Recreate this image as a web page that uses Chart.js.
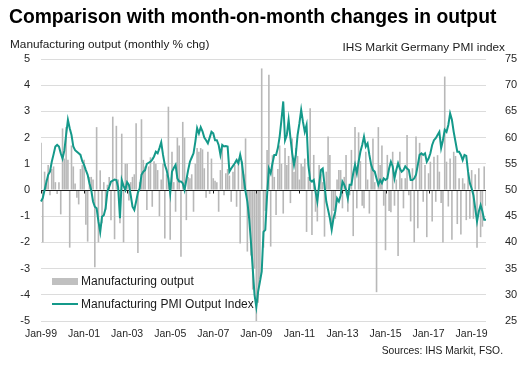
<!DOCTYPE html>
<html><head><meta charset="utf-8">
<script src="https://cdn.jsdelivr.net/npm/chart.js@4.4.1/dist/chart.umd.min.js"></script>
<style>
html,body{margin:0;padding:0;background:#fff;}
#wrap{position:relative;width:523px;height:372px;font-family:"Liberation Sans",Arial,sans-serif;color:#1a1a1a;overflow:hidden;background:#fff}
canvas{position:absolute;left:0;top:0}
.t{position:absolute;white-space:nowrap;line-height:1}
</style></head><body>
<div id="wrap">
<canvas id="c" width="523" height="372"></canvas>
<div class="t" style="left:9px;top:6.5px;font-size:19.3px;font-weight:bold;color:#000">Comparison with month-on-month changes in output</div>
<div class="t" style="left:10px;top:38.5px;font-size:11.8px">Manufacturing output (monthly % chg)</div>
<div class="t" style="right:18px;top:41.5px;font-size:11.8px">IHS Markit Germany PMI index</div>
<div class="t" style="right:20px;top:346px;font-size:10.3px">Sources: IHS Markit, FSO.</div>
<div style="position:absolute;left:52px;top:278px;width:26px;height:7px;background:#c0c0c0"></div>
<div class="t" style="left:81px;top:275px;font-size:12px">Manufacturing output</div>
<div style="position:absolute;left:52px;top:303px;width:26px;height:2px;background:#14998a"></div>
<div class="t" style="left:81px;top:298px;font-size:12px">Manufacturing PMI Output Index</div>
</div>
<script>
const startYear = 1999;
const monthNames = ['Jan','Feb','Mar','Apr','May','Jun','Jul','Aug','Sep','Oct','Nov','Dec'];
const tickLabels = ['Jan-99','Jan-01','Jan-03','Jan-05','Jan-07','Jan-09','Jan-11','Jan-13','Jan-15','Jan-17','Jan-19'];

// Manufacturing output, monthly % change (left axis)
const outputChange = [
 1.8,-2.0,0.7,0.4,0.95,-0.2,0.8,0.9,0.3,-0.15,
 0.3,-0.93,2.35,1.2,2.4,1.15,-2.2,1.7,0.9,0.25,
 -0.3,-0.55,0.8,0.95,1.15,-1.33,-1.97,0.5,0.5,0.4,
 -2.95,2.4,-2.0,0.75,-1.27,0.3,-0.76,0.2,0.5,-1.15,
 2.8,-1.88,2.45,0.4,-1.27,2.15,-2.0,1.0,1.0,-0.4,
 0.3,0.5,0.6,2.55,-2.4,0.3,2.7,1.15,0.9,-0.76,
 0.9,1.25,-0.64,1.1,1.0,0.76,-1.0,0.4,1.0,-1.85,
 0.6,3.18,-1.9,1.46,0.3,-0.83,2.0,1.7,-2.55,2.6,
 2.0,-1.15,0.5,0.45,0.6,-0.83,1.0,1.6,1.46,1.6,
 1.55,0.83,-0.3,1.46,-0.15,1.2,0.45,0.35,0.3,-0.83,
 0.76,1.65,-0.2,0.64,0.8,0.55,-0.45,0.7,0.95,-0.64,
 1.2,-2.04,1.1,0.6,1.97,-2.35,-1.0,-2.5,-3.8,-3.0,
 -5.0,-4.3,-3.4,4.64,-2.2,-0.8,1.53,4.4,-2.16,1.33,
 0.5,-0.95,0.8,1.7,1.0,-0.9,1.6,0.95,1.3,-0.5,
 1.97,0.7,1.6,1.3,0.4,1.0,0.9,1.2,-1.6,0.5,
 3.12,-1.72,1.34,-0.83,-1.2,0.95,0.6,0.3,-1.78,0.7,
 2.04,1.34,-1.46,-0.8,-1.1,0.4,0.76,0.76,-0.7,0.5,
 1.34,-0.83,-0.2,1.53,-1.76,2.4,-0.7,2.2,1.1,-0.6,
 -0.7,1.46,0.4,-0.9,0.95,1.97,0.3,-3.9,2.4,0.95,
 1.7,-0.6,-2.3,1.34,-0.8,-0.85,1.46,-0.6,0.4,-2.52,
 1.46,0.45,-0.7,0.45,2.1,-0.2,-1.2,0.83,-2.0,2.04,
 -1.46,1.8,1.4,-0.45,0.95,-1.8,0.64,1.08,-1.2,1.27,
 -0.45,1.33,0.7,-0.5,-2.0,4.33,1.08,-0.63,1.2,-1.9,
 1.46,1.3,-1.3,0.45,-1.7,0.45,0.25,-1.15,0.64,-1.1,
 0.76,-1.1,0.6,-2.2,0.83,-1.8,-1.4,0.9,-0.6
];

// IHS Markit Germany Manufacturing PMI Output Index (right axis)
const pmiOutput = [
 47.8,48.5,50.0,51.5,52.9,53.5,55.4,56.8,58.3,58.6,
 58.3,57.0,56.0,57.5,60.5,63.4,61.8,60.5,58.3,57.6,
 57.3,57.0,56.7,55.5,54.8,53.8,52.9,51.3,50.0,47.8,
 46.8,46.5,44.0,42.0,44.9,45.2,46.5,49.7,50.6,51.6,
 51.8,52.0,51.9,50.5,44.6,51.9,50.8,50.0,51.5,51.0,
 49.0,46.8,46.2,47.8,49.5,50.3,52.9,53.5,53.8,55.0,
 55.2,55.4,55.8,56.4,57.3,57.0,58.0,59.1,56.7,54.8,
 53.8,52.2,49.4,53.5,54.2,54.8,52.2,51.6,51.6,51.3,
 50.0,51.9,53.8,55.4,56.2,57.0,59.2,61.8,60.8,62.0,
 61.2,60.0,59.5,58.9,60.0,61.1,60.8,59.5,59.5,58.6,
 56.7,58.6,58.3,58.4,58.3,53.5,54.1,54.6,55.1,55.7,
 55.1,56.7,55.1,52.2,49.7,47.8,44.6,40.1,35.0,30.0,
 27.7,30.6,32.5,34.4,42.0,42.4,49.0,54.1,53.2,55.1,
 56.7,56.7,58.0,60.2,63.4,66.9,59.5,60.5,63.4,60.0,
 57.0,54.8,56.7,60.5,62.7,65.3,63.0,61.1,62.4,54.8,
 51.9,51.6,51.9,49.7,47.8,51.0,53.8,54.1,51.0,47.8,
 46.2,44.6,42.4,44.6,45.9,48.4,47.8,49.0,51.6,51.0,
 50.0,48.4,51.0,51.0,53.2,54.8,53.2,55.4,57.3,58.6,
 60.2,58.3,58.9,56.7,54.8,53.8,53.5,52.2,51.0,51.9,
 51.3,52.2,51.9,52.2,54.1,55.4,54.5,52.2,53.8,55.1,
 54.1,53.5,53.8,54.5,54.1,53.8,51.9,51.9,52.2,52.9,
 54.8,56.7,57.0,56.7,57.0,55.4,56.0,57.0,58.6,59.5,
 59.9,60.5,61.1,58.0,59.5,61.5,61.1,62.4,64.6,63.4,
 61.1,59.2,57.3,57.3,56.7,55.7,56.7,56.5,53.5,51.3,
 50.3,49.0,46.5,44.0,45.9,47.1,45.9,44.3,44.3
];

const categories = [];
for (let i = 0; i < outputChange.length; i++) {
  const yr = (startYear + Math.floor(i / 12)) % 100;
  categories.push(monthNames[i % 12] + '-' + String(yr).padStart(2, '0'));
}

const FONT = '"Liberation Sans", Arial, sans-serif';
const TEXT = '#262626';

const zeroLine = {
  id: 'zeroLine',
  afterDatasetDraw(chart, args) {
    if (args.meta.type !== 'bar') return;
    const { ctx, chartArea, scales } = chart;
    const y0 = Math.round(scales.y.getPixelForValue(0)) + 0.5;
    ctx.save();
    ctx.strokeStyle = '#1e1e1e';
    ctx.lineWidth = 1;
    ctx.beginPath();
    ctx.moveTo(chartArea.left, y0);
    ctx.lineTo(chartArea.right, y0);
    categories.forEach((c, i) => {
      if (tickLabels.includes(c)) {
        const x = Math.round(scales.x.getPixelForValue(i)) + 0.5;
        ctx.moveTo(x, y0);
        ctx.lineTo(x, y0 + 3);
      }
    });
    ctx.stroke();
    ctx.restore();
  }
};

new Chart(document.getElementById('c'), {
  data: {
    labels: categories,
    datasets: [
      { type: 'line', label: 'Manufacturing PMI Output Index', data: pmiOutput, yAxisID: 'y2',
        borderColor: '#14998a', borderWidth: 2, pointRadius: 0, tension: 0, order: 0 },
      { type: 'bar', label: 'Manufacturing output', data: outputChange, yAxisID: 'y',
        backgroundColor: '#b8b8b8', barPercentage: 0.9, categoryPercentage: 1, order: 1 }
    ]
  },
  options: {
    responsive: false, animation: false, devicePixelRatio: 1,
    layout: { padding: { top: 59, left: 0, right: 0, bottom: 0 } },
    plugins: { legend: { display: false }, tooltip: { enabled: false } },
    scales: {
      x: {
        offset: false,
        grid: { display: false, drawTicks: false }, border: { display: false },
        ticks: { autoSkip: false, maxRotation: 0, minRotation: 0, padding: 7,
          font: { family: FONT, size: 10.5 }, color: TEXT,
          callback: (v, i) => tickLabels.includes(categories[i]) ? categories[i] : null },
        afterFit: s => { s.height = 51; }
      },
      y: {
        position: 'left', min: -5, max: 5,
        ticks: { stepSize: 1, padding: 11, font: { family: FONT, size: 11 }, color: TEXT },
        grid: { drawTicks: false, color: c => c.tick.value === 0 ? 'rgba(0,0,0,0)' : '#dcdcdc' },
        border: { display: false },
        afterFit: s => { s.width = 41; }
      },
      y2: {
        position: 'right', min: 25, max: 75,
        ticks: { stepSize: 5, padding: 11, font: { family: FONT, size: 11 }, color: TEXT },
        grid: { display: false }, border: { display: false },
        afterFit: s => { s.width = 37; }
      }
    }
  },
  plugins: [zeroLine]
});
</script>
</body></html>
